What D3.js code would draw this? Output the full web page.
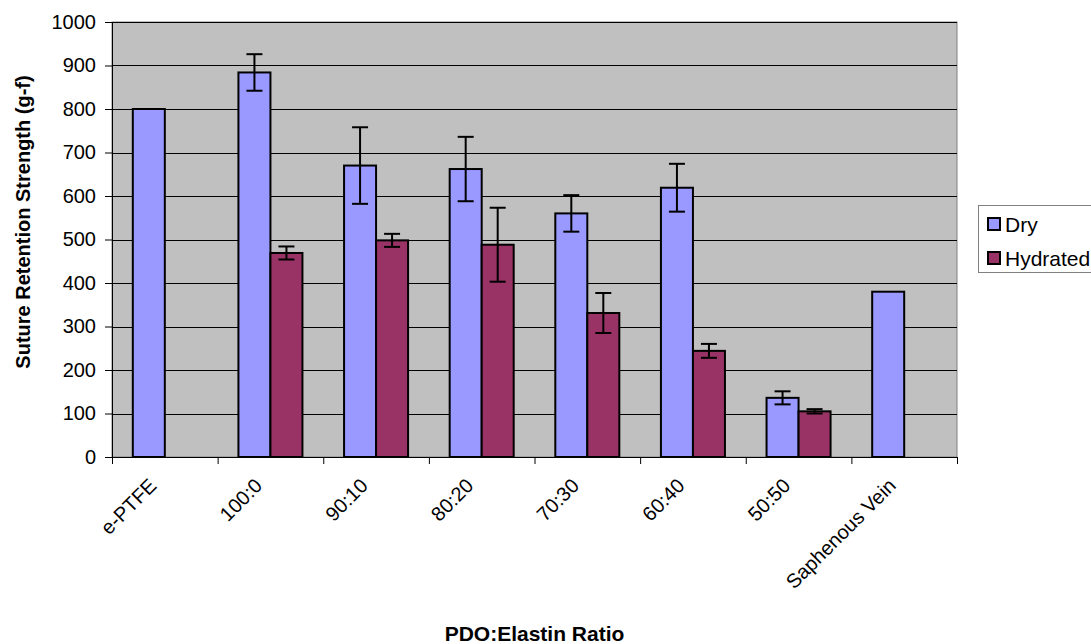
<!DOCTYPE html>
<html><head><meta charset="utf-8">
<script src="https://cdn.jsdelivr.net/npm/d3@7"></script>
<style>body{margin:0;background:#fff}svg{display:block}text{font-family:Arial,"Liberation Sans",sans-serif}</style>
</head><body>
<svg id="c" width="1091" height="644"></svg>
<script>
const categories = ["e-PTFE","100:0","90:10","80:20","70:30","60:40","50:50","Saphenous Vein"];
const dryValues = [800, 884, 670, 662, 560, 619, 136, 380];
const dryErrors = [null, 42, 88, 74, 42, 55, 15, null];
const hydratedValues = [null, 469, 498, 488, 331, 244, 105, null];
const hydratedErrors = [null, 15, 15, 85, 46, 16, 5, null];
const yTicks = [0,100,200,300,400,500,600,700,800,900,1000];
const seriesNames = ["Dry","Hydrated"];
const colors = ["#9999FF","#993366"];

const svg = d3.select("#c");
const L=112, R=957, T=22, B=457;
const x = d3.scaleBand().domain(categories).range([L,R]).paddingInner(0).paddingOuter(0);
const y = d3.scaleLinear().domain([0,1000]).range([B,T]);
const inner = d3.scaleBand().domain(seriesNames).range([0,x.bandwidth()]).paddingInner(0).paddingOuter(0.65);

svg.append("rect").attr("x",L).attr("y",T).attr("width",R-L).attr("height",B-T).attr("fill","#C0C0C0").attr("stroke","#808080").attr("stroke-width",1);

// gridlines
svg.append("g").selectAll("line").data(yTicks.filter(d=>d>0)).join("line")
 .attr("x1",L).attr("x2",R).attr("y1",d=>Math.round(y(d))+0.5).attr("y2",d=>Math.round(y(d))+0.5)
 .attr("stroke","#000").attr("stroke-width",1);

// axes
const yAxis = d3.axisLeft(y).tickValues(yTicks).tickFormat(d3.format("d")).tickSize(7).tickSizeOuter(0).tickPadding(9);
const ga = svg.append("g").attr("transform",`translate(${L},0)`).call(yAxis);
ga.selectAll("text").attr("font-size",20).attr("fill","#000");
ga.selectAll("line,path").attr("stroke","#000");

const xAxis = d3.axisBottom(d3.scaleLinear().domain([0,categories.length]).range([L,R])).tickValues(d3.range(categories.length+1)).tickSize(7).tickSizeOuter(0).tickFormat("");
const gx = svg.append("g").attr("transform",`translate(0,${B})`).call(xAxis);
gx.selectAll("line,path").attr("stroke","#000");

svg.append("g").selectAll("text").data(categories).join("text")
 .attr("transform",d=>`translate(${x(d)+x.bandwidth()/2-7},${B+30}) rotate(-45)`)
 .attr("text-anchor","end").attr("font-size",20).text(d=>d);

// bars
const series = [
 {name:"Dry", vals:dryValues, errs:dryErrors, color:colors[0]},
 {name:"Hydrated", vals:hydratedValues, errs:hydratedErrors, color:colors[1]}
];
series.forEach(s=>{
 const g = svg.append("g");
 categories.forEach((c,i)=>{
  const v=s.vals[i]; if(v==null) return;
  const bx = x(c)+inner(s.name);
  g.append("rect").attr("x",bx).attr("y",y(v)).attr("width",inner.bandwidth()).attr("height",y(0)-y(v))
   .attr("fill",s.color).attr("stroke","#000").attr("stroke-width",2);
 });
});
series.forEach(s=>{
 const g = svg.append("g");
 categories.forEach((c,i)=>{
  const v=s.vals[i], e=s.errs[i]; if(v==null||e==null) return;
  const cx = x(c)+inner(s.name)+inner.bandwidth()/2;
  g.append("line").attr("x1",cx).attr("x2",cx).attr("y1",y(v+e)).attr("y2",y(v-e)).attr("stroke","#000").attr("stroke-width",2);
  [v+e,v-e].forEach(t=>g.append("line").attr("x1",cx-8).attr("x2",cx+8).attr("y1",y(t)).attr("y2",y(t)).attr("stroke","#000").attr("stroke-width",2));
 });
});

// axis titles
svg.append("text").attr("transform",`translate(30,222) rotate(-90)`).attr("text-anchor","middle")
 .attr("font-size",20).attr("font-weight","bold").text("Suture Retention Strength (g-f)");
svg.append("text").attr("x",(L+R)/2).attr("y",641).attr("text-anchor","middle")
 .attr("font-size",21).attr("font-weight","bold").text("PDO:Elastin Ratio");

// legend
const lg = svg.append("g");
lg.append("rect").attr("x",978.5).attr("y",205.5).attr("width",130).attr("height",67).attr("fill","#fff").attr("stroke","#808080");
seriesNames.forEach((n,i)=>{
 const yy = 224 + i*34;
 lg.append("rect").attr("x",988).attr("y",yy-6).attr("width",12).attr("height",12).attr("fill",colors[i]).attr("stroke","#000").attr("stroke-width",2);
 lg.append("text").attr("x",1005).attr("y",yy).attr("dy","0.36em").attr("font-size",21).text(n);
});
</script>
</body></html>
